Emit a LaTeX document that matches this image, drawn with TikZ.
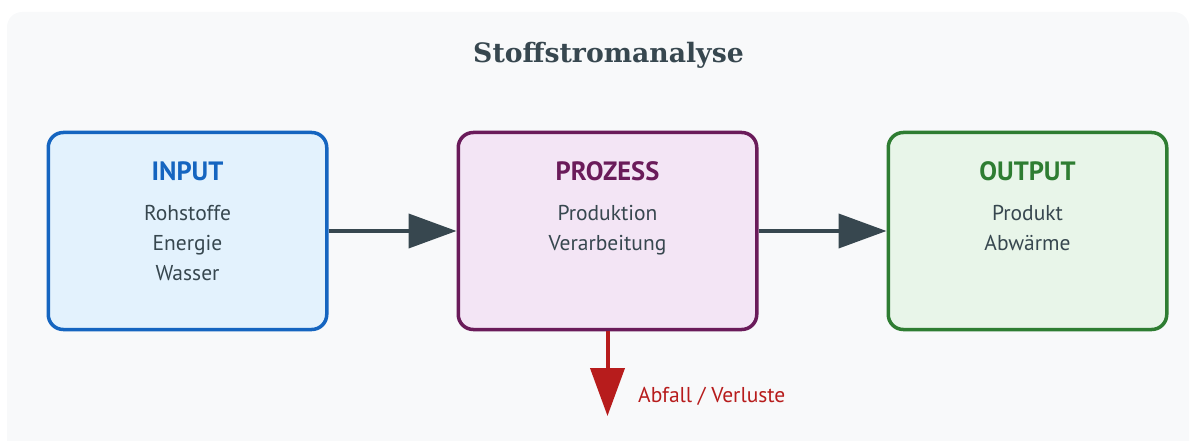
\documentclass[tikz,border=0pt]{standalone}
\usepackage{fontspec}
\setmainfont{PT Sans}
\newfontfamily\titlefont{DejaVu Serif}
\usetikzlibrary{arrows.meta,calc}
\definecolor{bgc}{HTML}{F8F9FA}
\definecolor{txt}{HTML}{37474F}
\definecolor{inD}{HTML}{1565C0}
\definecolor{inF}{HTML}{E3F2FD}
\definecolor{prD}{HTML}{6A1B5A}
\definecolor{prF}{HTML}{F3E5F5}
\definecolor{ouD}{HTML}{2E7D32}
\definecolor{ouF}{HTML}{E8F5E9}
\definecolor{lossC}{HTML}{B71C1C}
\begin{document}
\begin{tikzpicture}[x=1pt,y=-1pt,
  box/.style={draw, line width=3.5pt, rounded corners=15pt, minimum height=197pt, inner sep=0pt},
  head/.style={font=\fontsize{26.5}{30}\selectfont\bfseries, anchor=base, inner sep=0pt},
  body/.style={font=\fontsize{21.5}{26}\selectfont, text=txt, anchor=base, inner sep=0pt},
  flow/.style={line width=4pt, -{Triangle[length=48pt,width=34pt]}}]
\useasboundingbox (0,0) rectangle (1195,441);
\begin{scope}
\clip (0,0) rectangle (1195,441);
\fill[bgc, rounded corners=15pt] (7,12) rectangle (1189,470);
\end{scope}
\node[font=\titlefont\fontsize{26.7}{30}\selectfont\bfseries, text=txt, anchor=base, inner sep=0pt] (title) at (608.5,63) {Stoffstromanalyse};
% boxes
\node[box, minimum width=278.5pt, draw=inD, fill=inF] (in) at (187.5,231) {};
\node[box, minimum width=298.5pt, draw=prD, fill=prF] (pr) at (607.5,231) {};
\node[box, minimum width=278.5pt, draw=ouD, fill=ouF] (ou) at (1027.5,231) {};
% texts
\node[head, text=inD] (inH) at (187.5,181) {INPUT};
\node[body] (in1) at (187.5,221) {Rohstoffe};
\node[body] (in2) at (187.5,250.5) {Energie};
\node[body] (in3) at (187.5,280) {Wasser};
\node[head, text=prD] (prH) at (607.5,181) {PROZESS};
\node[body] (pr1) at (607.5,221) {Produktion};
\node[body] (pr2) at (607.5,250.5) {Verarbeitung};
\node[head, text=ouD] (ouH) at (1027.5,181) {OUTPUT};
\node[body] (ou1) at (1027.5,221) {Produkt};
\node[body] (ou2) at (1027.5,250.5) {Abwärme};
% arrows
\draw[flow, txt] (in.east) -- (pr.west);
\draw[flow, txt] (pr.east) -- (ou.west);
\coordinate (lossEnd) at (607.5,416);
\draw[flow, lossC] (pr.south) -- (lossEnd);
\node[body, text=lossC, anchor=base west] (loss) at (638,402) {Abfall / Verluste};
\end{tikzpicture}
\end{document}
